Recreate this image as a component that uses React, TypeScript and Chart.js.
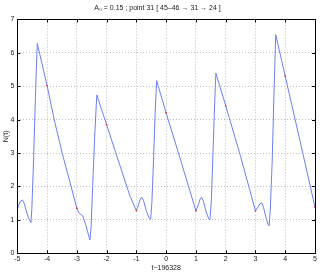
import React, { useEffect, useRef } from "react";
import { Chart, registerables } from "chart.js";

Chart.register(...registerables);

const titleText = "A\u2080 = 0.15 ; point 31 [ 45\u201346 \u2192 31 \u2192 24 ]";
const xLabel = "t\u2212196328";
const yLabel = "N(t)";

const tValues = [
  -5, -4.96, -4.9, -4.83, -4.77, -4.7, -4.62, -4.54, -4.51, -4.45, -4.39, -4.33, -4.0, -3.76, -3.49, -3.0,
  -2.94, -2.89, -2.8, -2.7, -2.6, -2.56, -2.52, -2.47, -2.4, -2.33, -2.0, -1.69, -1.21, -1.0,
  -0.94, -0.87, -0.82, -0.76, -0.66, -0.57, -0.52, -0.48, -0.42, -0.37, -0.32, 0.0, 0.5, 1.0,
  1.08, 1.14, 1.19, 1.25, 1.35, 1.43, 1.47, 1.52, 1.58, 1.63, 1.67, 2.0, 2.5, 3.0,
  3.08, 3.15, 3.21, 3.27, 3.36, 3.43, 3.46, 3.5, 3.56, 3.62, 3.68, 4.0, 4.5, 5.0,
];
const nValues = [
  1.3, 1.42, 1.55, 1.6, 1.5, 1.28, 1.05, 0.92, 1.35, 2.9, 4.7, 6.28, 5.02, 4.0, 2.99, 1.35,
  1.22, 1.18, 1.12, 0.85, 0.52, 0.4, 0.8, 2.0, 3.5, 4.74, 3.85, 3.0, 1.7, 1.28,
  1.42, 1.62, 1.68, 1.58, 1.25, 1.06, 1.02, 1.5, 2.9, 4.2, 5.17, 4.2, 2.75, 1.27,
  1.45, 1.62, 1.68, 1.56, 1.22, 1.03, 1.0, 1.6, 3.2, 4.5, 5.39, 4.42, 2.9, 1.27,
  1.38, 1.48, 1.51, 1.38, 1.05, 0.85, 0.82, 1.35, 2.7, 4.7, 6.54, 5.3, 3.35, 1.38,
];
const markerT = [-4, -3, -2, -1, 0, 1, 2, 3, 4, 5];
const markerN = [5.02, 1.35, 3.85, 1.28, 4.2, 1.27, 4.42, 1.27, 5.3, 1.38];
const xTicks = [-5, -4, -3, -2, -1, 0, 1, 2, 3, 4, 5];
const yTicks = [0, 1, 2, 3, 4, 5, 6, 7];

const FONT = "'Liberation Sans', Arial, Helvetica, sans-serif";

const framePlugin = {
  id: "frame",
  afterDraw(chart: any) {
    const { ctx, chartArea } = chart;
    const { left, right, top, bottom } = chartArea;
    const xs = chart.scales.x;
    const ys = chart.scales.y;
    ctx.save();
    ctx.strokeStyle = "#000";
    ctx.lineWidth = 1;
    ctx.beginPath();
    const tl = 3;
    xTicks.forEach((v) => {
      const px = Math.round(xs.getPixelForValue(v)) + 0.5;
      ctx.moveTo(px, bottom);
      ctx.lineTo(px, bottom - tl);
      ctx.moveTo(px, top);
      ctx.lineTo(px, top + tl);
    });
    yTicks.forEach((v) => {
      const py = Math.round(ys.getPixelForValue(v)) + 0.5;
      ctx.moveTo(left, py);
      ctx.lineTo(left + tl, py);
      ctx.moveTo(right, py);
      ctx.lineTo(right - tl, py);
    });
    ctx.stroke();
    ctx.strokeRect(Math.round(left) + 0.5, Math.round(top) + 0.5, Math.round(right - left), Math.round(bottom - top));
    ctx.restore();
  },
};

export default function App() {
  const ref = useRef<HTMLCanvasElement>(null);
  useEffect(() => {
    document.body.style.margin = "0";
    const canvas = ref.current!;
    const line = tValues.map((t, i) => ({ x: t, y: nValues[i] }));
    const marks = markerT.map((t, i) => ({ x: t, y: markerN[i] }));
    const chart = new Chart(canvas, {
      type: "line",
      data: {
        datasets: [
          {
            data: marks,
            showLine: false,
            pointRadius: 0.9,
            pointBackgroundColor: "#ff3030",
            pointBorderWidth: 0,
            borderColor: "#ff3030",
            order: 0,
          },
          {
            data: line,
            borderColor: "#6c80f2",
            borderWidth: 1,
            pointRadius: 0,
            tension: 0,
            fill: false,
            order: 1,
          },
        ],
      },
      plugins: [framePlugin],
      options: {
        animation: false,
        responsive: false,
        maintainAspectRatio: false,
        layout: { padding: { left: 0, right: 7, top: 0, bottom: 0 } },
        plugins: {
          legend: { display: false },
          tooltip: { enabled: false },
          title: {
            display: true,
            text: titleText,
            color: "#222",
            font: { family: FONT, size: 7, weight: "normal" },
            padding: { top: 4, bottom: 7 },
          },
        },
        scales: {
          x: {
            type: "linear",
            min: -5,
            max: 5,
            afterFit: (s: any) => {
              s.height = 19.7;
            },
            afterBuildTicks: (s: any) => {
              s.ticks = xTicks.map((v) => ({ value: v }));
            },
            ticks: {
              color: "#222",
              font: { family: FONT, size: 7 },
              padding: 2,
              maxRotation: 0,
              autoSkip: false,
            },
            grid: { color: "#bdbdbd", lineWidth: 1, drawTicks: false },
            border: { display: false, dash: [1, 2] },
            title: {
              display: true,
              text: xLabel,
              color: "#222",
              font: { family: FONT, size: 7 },
              padding: { top: 0, bottom: 1 },
            },
          },
          y: {
            type: "linear",
            min: 0,
            max: 7,
            afterFit: (s: any) => {
              s.width = 17.3;
            },
            afterBuildTicks: (s: any) => {
              s.ticks = yTicks.map((v) => ({ value: v }));
            },
            ticks: {
              color: "#222",
              font: { family: FONT, size: 7 },
              padding: 3,
              autoSkip: false,
            },
            grid: { color: "#bdbdbd", lineWidth: 1, drawTicks: false },
            border: { display: false, dash: [1, 2] },
            title: {
              display: true,
              text: yLabel,
              color: "#222",
              font: { family: FONT, size: 7 },
              padding: { top: 2, bottom: 0 },
            },
          },
        },
      },
    });
    return () => chart.destroy();
  }, []);
  return (
    <div style={{ position: "absolute", left: 0, top: 0, width: 322, height: 273 }}>
      <canvas ref={ref} width={322} height={273} style={{ width: 322, height: 273 }} />
    </div>
  );
}
